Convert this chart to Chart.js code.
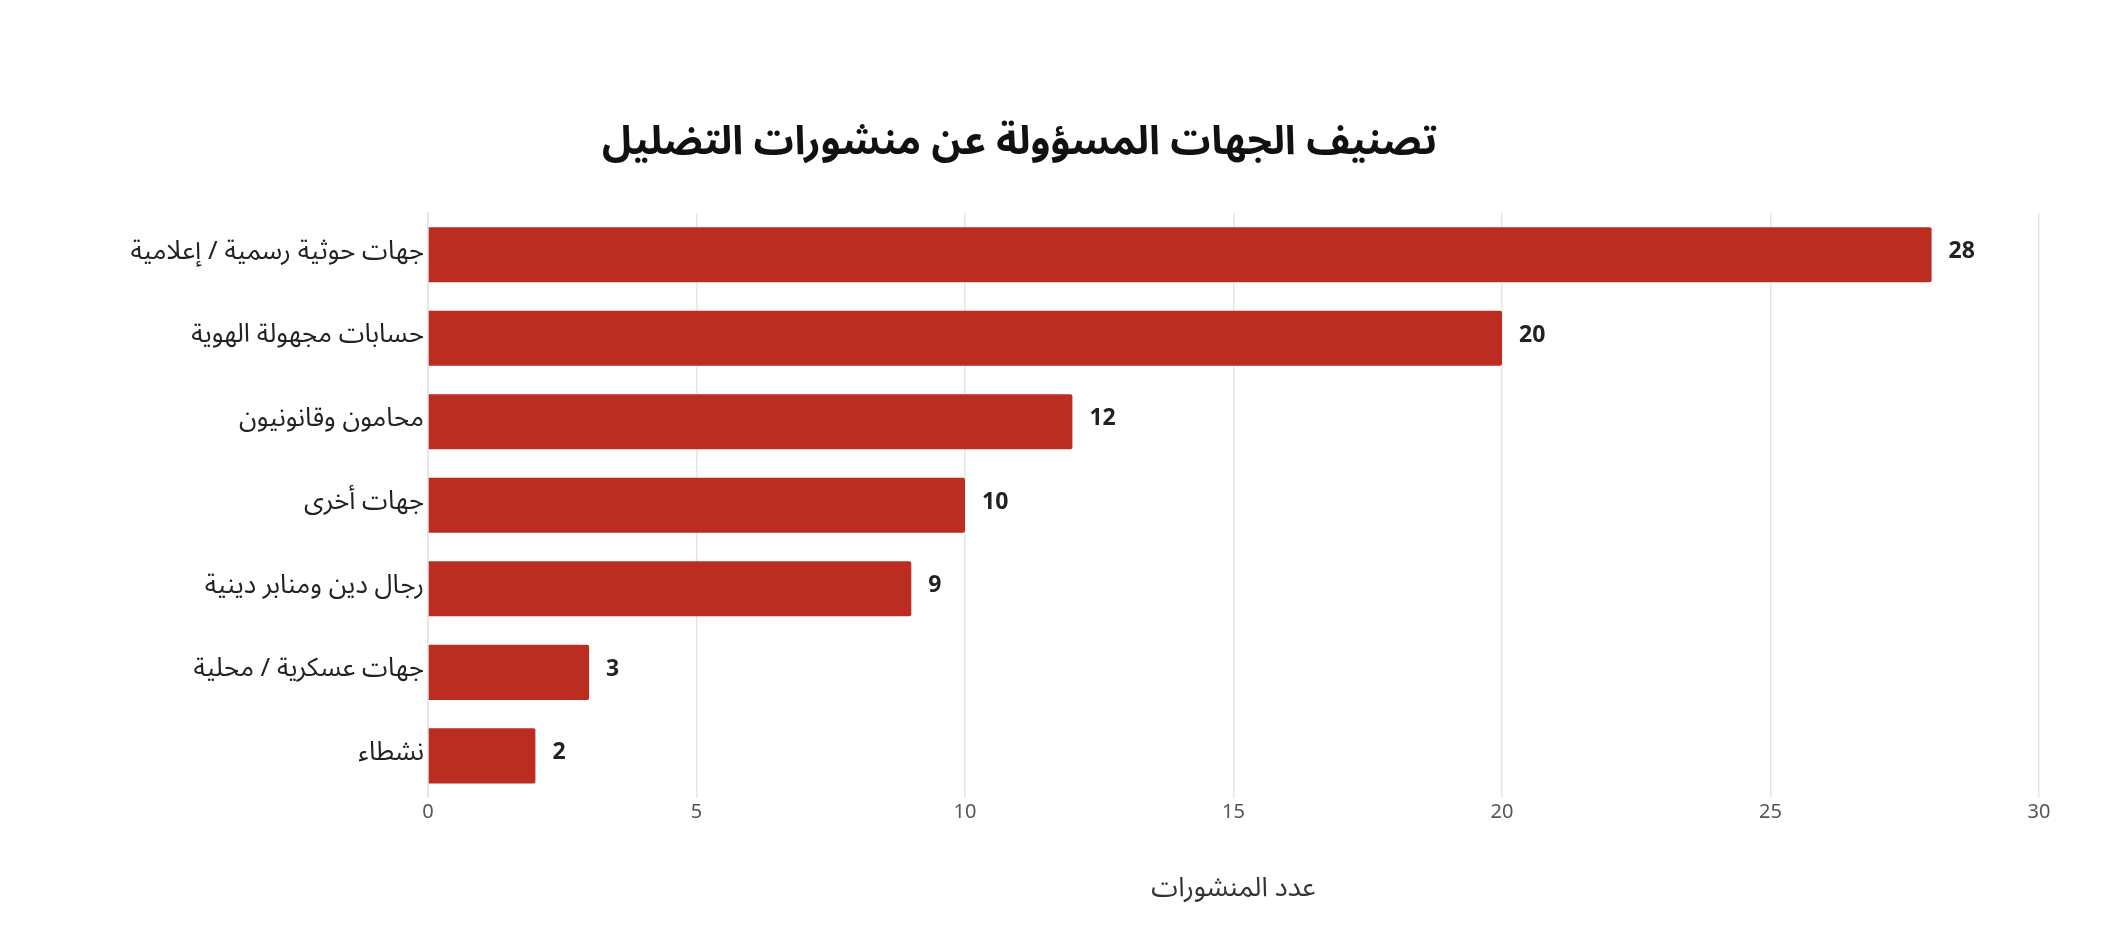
<!DOCTYPE html>
<html lang="ar">
<head>
<meta charset="utf-8">
<title>تصنيف الجهات المسؤولة عن منشورات التضليل</title>
<script src="https://cdn.jsdelivr.net/npm/chart.js@4.4.1/dist/chart.umd.min.js"></script>
<style>
  html, body { margin: 0; padding: 0; background: #fff; }
  #wrap { width: 2116px; height: 948px; }
</style>
</head>
<body>
<div id="wrap"><canvas id="chart" dir="rtl" width="2116" height="948"></canvas></div>
<script>
// data
const categories = [
  'جهات حوثية رسمية / إعلامية',
  'حسابات مجهولة الهوية',
  'محامون وقانونيون',
  'جهات أخرى',
  'رجال دين ومنابر دينية',
  'جهات عسكرية / محلية',
  'نشطاء'
]
const postCounts = [28, 20, 12, 10, 9, 3, 2]
const xTicks = [0, 5, 10, 15, 20, 25, 30]

const chartTitle = 'تصنيف الجهات المسؤولة عن منشورات التضليل'
const xTitle = 'عدد المنشورات'

const arFont = '"Noto Sans Arabic", "Noto Sans", "DejaVu Sans", sans-serif'

// value at the end of each bar
const barValues = {
  id: 'barValues',
  afterDatasetsDraw(chart) {
    const ctx = chart.ctx
    const meta = chart.getDatasetMeta(0)
    ctx.save()
    ctx.font = 'bold 23px ' + arFont
    ctx.fillStyle = '#222'
    ctx.textAlign = 'left'
    ctx.textBaseline = 'middle'
    ctx.direction = 'ltr'
    meta.data.forEach((bar, i) => {
      ctx.fillText(String(chart.data.datasets[0].data[i]), bar.x + 17, bar.y)
    })
    ctx.restore()
  }
}

const ctx = document.getElementById('chart').getContext('2d')

new Chart(ctx, {
  type: 'bar',
  data: {
    labels: categories,
    datasets: [{
      label: xTitle,
      data: postCounts,
      backgroundColor: '#bb2d20',
      borderRadius: 2,
      borderSkipped: 'start',
      barPercentage: 0.66,
      categoryPercentage: 1
    }]
  },
  plugins: [barValues],
  options: {
    indexAxis: 'y',
    responsive: false,
    devicePixelRatio: 1,
    animation: false,
    layout: {
      padding: { top: 124, right: 77, bottom: 40, left: 0 }
    },
    plugins: {
      legend: { display: false },
      tooltip: { enabled: false },
      title: {
        display: true,
        text: chartTitle,
        color: '#111',
        font: { family: arFont, size: 40, weight: 'bold' },
        padding: { top: 0, bottom: 41 }
      }
    },
    scales: {
      x: {
        min: 0,
        max: 30,
        afterBuildTicks: (scale) => {
          scale.ticks = xTicks.map(v => ({ value: v }))
        },
        grid: {
          color: '#e6e6e6',
          lineWidth: 1.5,
          drawTicks: false
        },
        border: { display: false },
        ticks: {
          color: '#555',
          padding: 5,
          font: { family: arFont, size: 20 }
        },
        title: {
          display: true,
          text: xTitle,
          color: '#333',
          font: { family: arFont, size: 27 },
          padding: { top: 44, bottom: 0 }
        }
      },
      y: {
        afterFit: (scale) => { scale.width = 428 },
        grid: { display: false, drawTicks: false },
        border: { display: true, color: '#e3e3e3', width: 1.5 },
        ticks: {
          color: '#222',
          padding: 4,
          font: { family: arFont, size: 26 }
        }
      }
    }
  }
})
</script>
</body>
</html>
